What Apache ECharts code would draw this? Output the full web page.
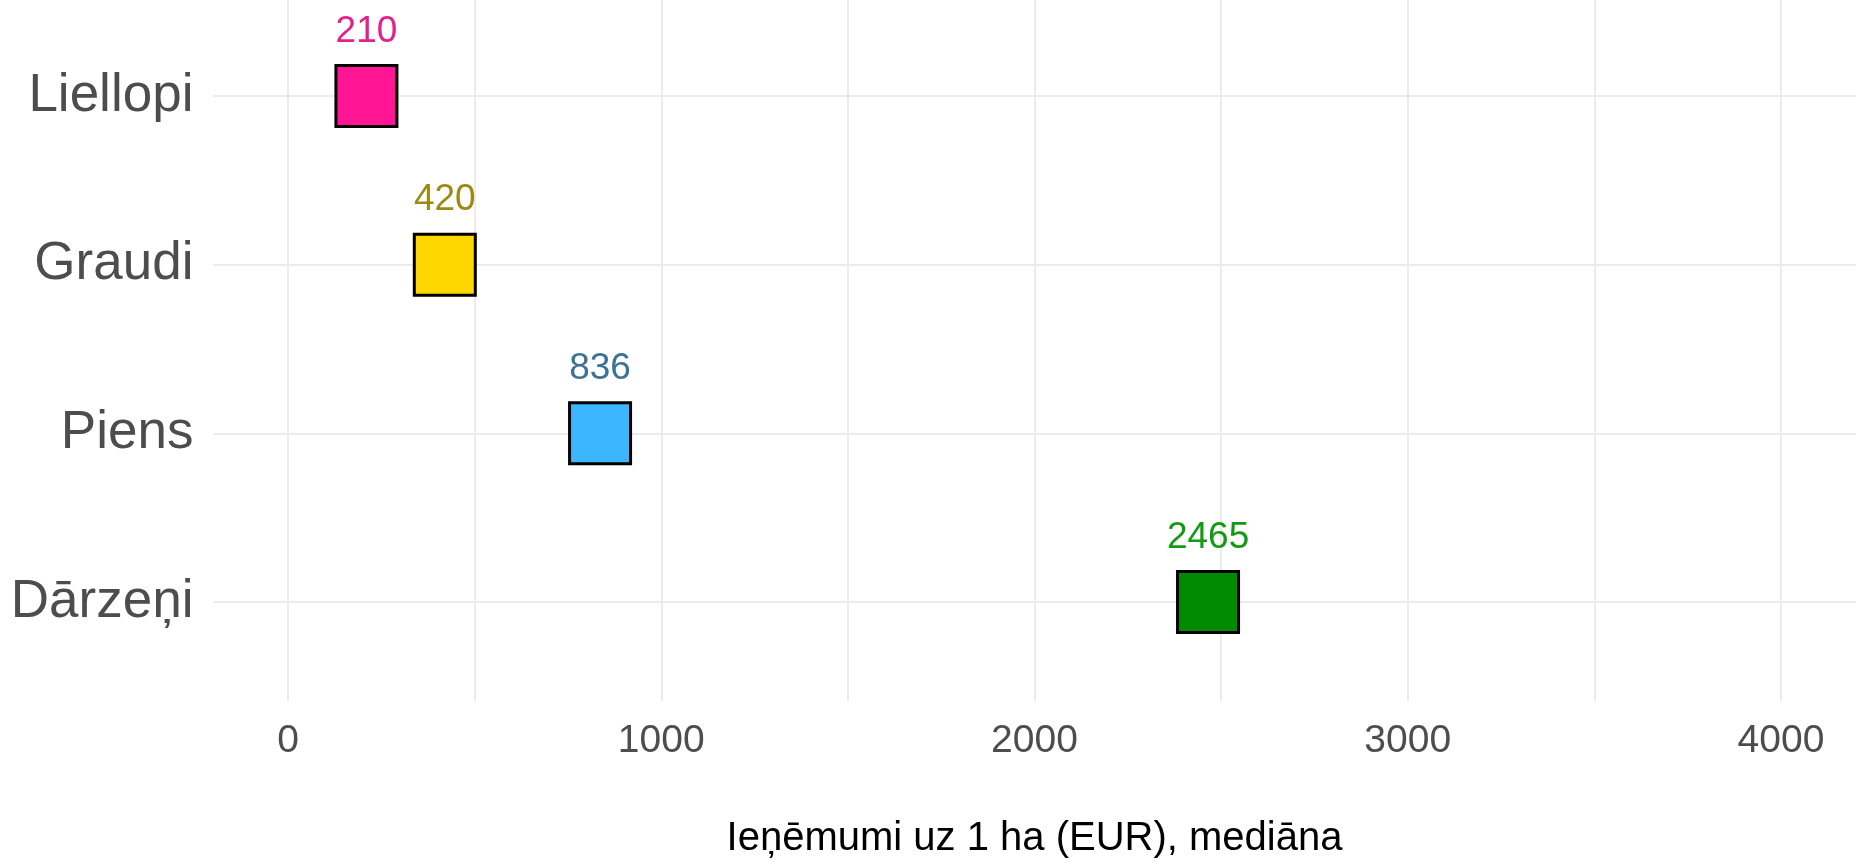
<!DOCTYPE html>
<html>
<head>
<meta charset="utf-8">
<script src="https://cdn.jsdelivr.net/npm/echarts@6/dist/echarts.min.js"></script>
<style>
  html, body { margin: 0; padding: 0; background: #fff; }
  #chart { width: 1862px; height: 863px; }
</style>
</head>
<body>
<div id="chart"></div>
<script>
// data
var categories = ['Liellopi', 'Graudi', 'Piens', 'Dārzeņi'];
var values = [210, 420, 836, 2465];
var fillColors = ['#ff1493', '#ffd700', '#3bb6ff', '#008a00'];
var labelColors = ['#e3218b', '#9c8a14', '#3a7298', '#139a13'];
var xTicks = [0, 1000, 2000, 3000, 4000];

var font = '"Liberation Sans", Arial, sans-serif';
var gridColor = '#ebebeb';

const chart = echarts.init(document.getElementById('chart'));

chart.setOption({
    backgroundColor: '#fff',
    animation: false,
    grid: [
        // vertical grid lines + x labels
        { left: 288, right: 81, top: 0, bottom: 162, outerBoundsMode: 'none' },
        // points + horizontal grid lines
        { left: 213.4, right: 6.4, top: 96, height: 506, outerBoundsMode: 'none' }
    ],
    xAxis: [
        {
            gridIndex: 0,
            type: 'value',
            min: 0,
            max: 4000,
            interval: 500,
            axisLine: { show: false },
            axisTick: { show: false },
            splitLine: { lineStyle: { color: gridColor, width: 2 } },
            axisLabel: {
                margin: 21,
                color: '#4d4d4d',
                fontFamily: font,
                fontSize: 39,
                formatter: function (v) {
                    return xTicks.indexOf(v) >= 0 ? String(v) : '';
                }
            },
            name: 'Ieņēmumi uz 1 ha (EUR), mediāna',
            nameLocation: 'middle',
            nameGap: 118,
            nameTextStyle: {
                color: '#000',
                fontFamily: font,
                fontSize: 40
            }
        },
        {
            gridIndex: 1,
            type: 'value',
            min: -200,
            max: 4200,
            show: false
        }
    ],
    yAxis: [
        {
            gridIndex: 0,
            type: 'value',
            show: false
        },
        {
            gridIndex: 1,
            type: 'category',
            data: categories,
            inverse: true,
            boundaryGap: false,
            axisLine: { show: false },
            axisTick: { show: false },
            splitLine: { show: true, lineStyle: { color: gridColor, width: 2 } },
            axisLabel: {
                margin: 20,
                color: '#4d4d4d',
                fontFamily: font,
                fontSize: 53
            }
        }
    ],
    series: [
        {
            type: 'scatter',
            xAxisIndex: 1,
            yAxisIndex: 1,
            symbol: 'rect',
            symbolSize: 61,
            clip: false,
            data: values.map(function (v, i) {
                return {
                    value: [v, categories[i]],
                    itemStyle: {
                        color: fillColors[i],
                        borderColor: '#000',
                        borderWidth: 3,
                        opacity: 1
                    },
                    label: {
                        color: labelColors[i]
                    }
                };
            }),
            label: {
                show: true,
                position: 'top',
                distance: 14,
                fontFamily: font,
                fontSize: 37,
                formatter: function (p) {
                    return p.value[0];
                }
            }
        }
    ]
});
</script>
</body>
</html>
